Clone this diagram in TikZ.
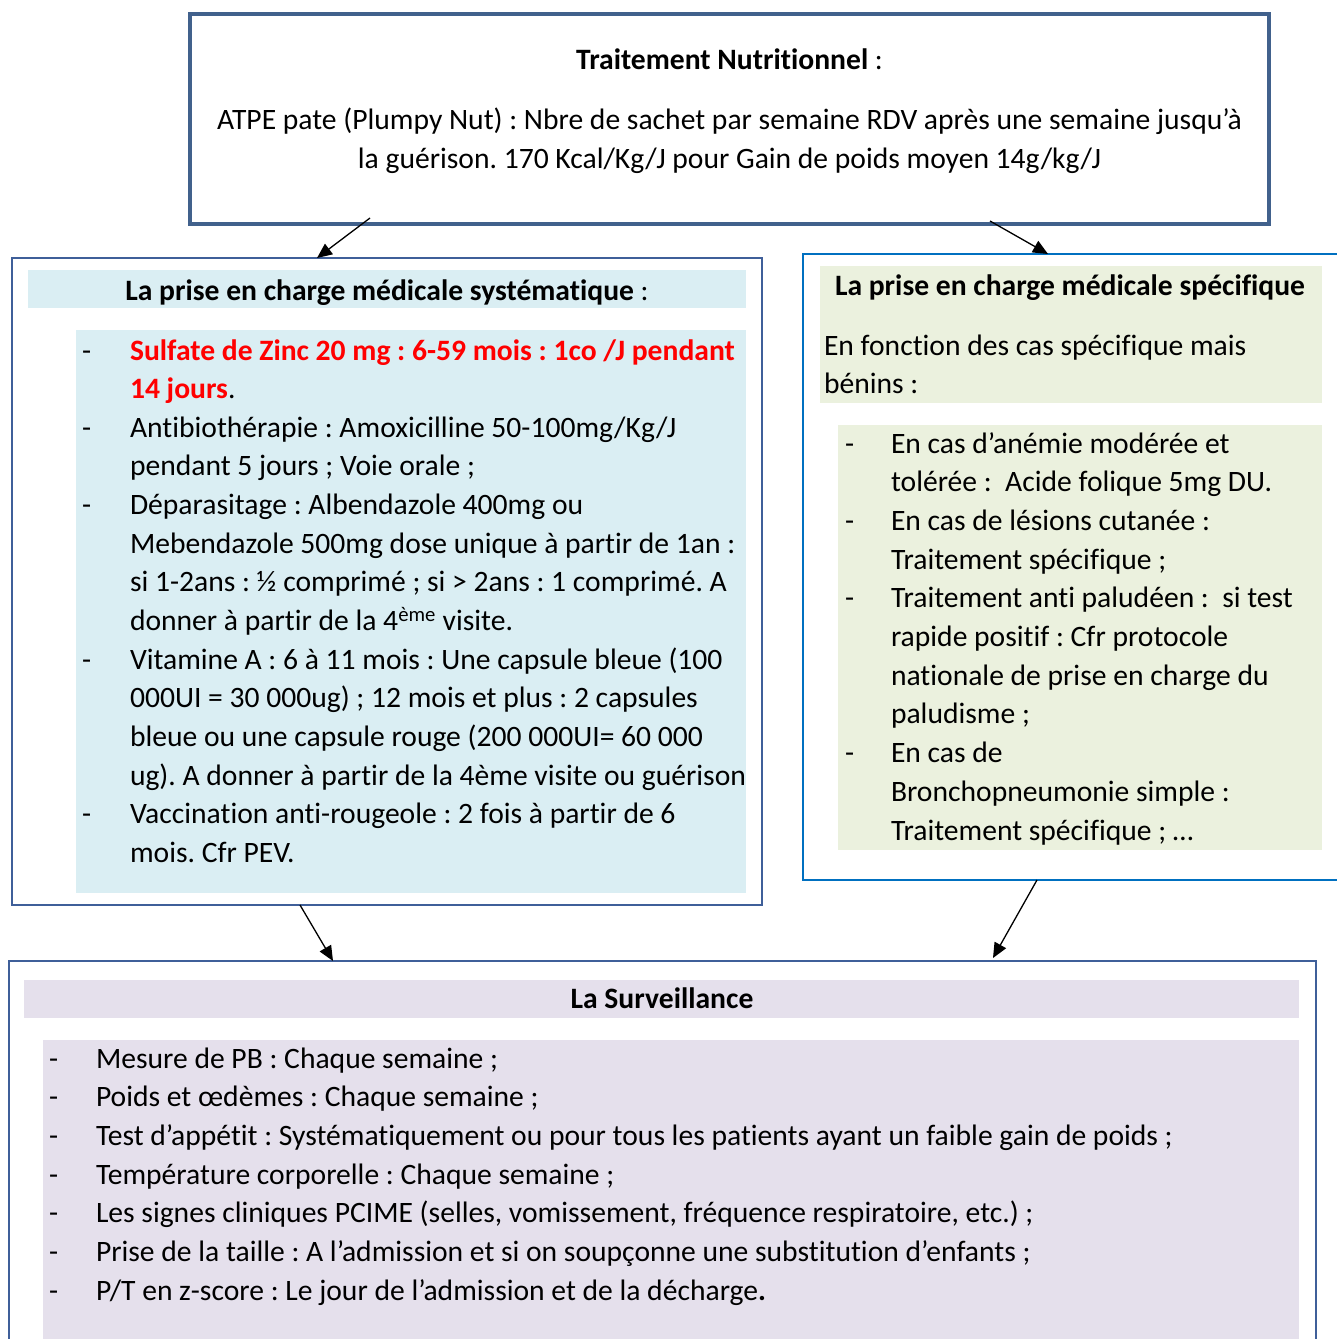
\documentclass[tikz,border=0pt]{standalone}
\usepackage{fontspec}
\setmainfont{Carlito}[Ligatures={NoCommon}]
\usetikzlibrary{arrows.meta}
\definecolor{topline}{RGB}{65,97,140}
\definecolor{boxline}{RGB}{63,95,153}
\definecolor{rightline}{RGB}{0,112,192}
\definecolor{bandblue}{RGB}{218,238,243}
\definecolor{bandgreen}{RGB}{235,241,222}
\definecolor{bandpurple}{RGB}{229,224,236}
\definecolor{zincred}{RGB}{255,0,0}
\newcommand{\fsz}{\fontsize{29.6}{38.7}\selectfont\frenchspacing}
\begin{document}
\begin{tikzpicture}[x=1pt,y=-1pt,
  txt/.style={anchor=base west,inner sep=0pt,outer sep=0pt,font=\fsz,yshift=-1pt},
  ctxt/.style={anchor=base,inner sep=0pt,outer sep=0pt,font=\fsz,yshift=-1pt},
  box/.style={draw=#1,anchor=north west,inner sep=0pt,outer sep=0pt},
  band/.style={fill=#1,anchor=north west,inner sep=0pt,outer sep=0pt,draw=none},
  arr/.style={-{Triangle[length=15pt,width=13pt]},line width=1.3pt,black}]
\useasboundingbox (0,0) rectangle (1337,1339);
\clip (0,0) rectangle (1337,1339);

% boxes
\node[box=topline,line width=4.5pt,minimum width=1079pt,minimum height=210pt] (top) at (190,14) {};
\node[box=boxline,line width=2pt,minimum width=750pt,minimum height=647pt] (left) at (12,258) {};
\node[box=rightline,line width=2.5pt,minimum width=560pt,minimum height=626pt] (right) at (803,254) {};
\node[box=boxline,line width=2pt,minimum width=1307pt,minimum height=400pt] (bottom) at (9,961) {};

% bands
\node[band=bandblue,minimum width=718pt,minimum height=38pt] (lhb) at (28,270) {};
\node[band=bandblue,minimum width=670pt,minimum height=563pt] (lcb) at (76,330) {};
\node[band=bandgreen,minimum width=502pt,minimum height=137pt] (rhb) at (820,266) {};
\node[band=bandgreen,minimum width=484pt,minimum height=425pt] (rcb) at (838,425) {};
\node[band=bandpurple,minimum width=1275pt,minimum height=38pt] (bhb) at (24,980) {};
\node[band=bandpurple,minimum width=1256pt,minimum height=310pt] (bcb) at (43,1040) {};

% top text
\node[ctxt] (t1) at (729.5,68) {\textbf{Traitement Nutritionnel} :};
\node[ctxt] (t2) at (729.5,128) {ATPE pate (Plumpy Nut) : Nbre de sachet par semaine RDV après une semaine jusqu’à};
\node[ctxt] (t3) at (729.5,167) {la guérison. 170 Kcal/Kg/J pour Gain de poids moyen 14g/kg/J};

% left text
\node[ctxt] (lh) at (387,299) {\textbf{La prise en charge médicale systématique} :};
\node[txt] (ld1) at (82,359) {-};
\node[txt] (ld2) at (82,436.3) {-};
\node[txt] (ld3) at (82,513.6) {-};
\node[txt] (ld4) at (82,668.2) {-};
\node[txt] (ld5) at (82,822.8) {-};
\node[txt,text=zincred] (l0) at (130,359) {\textbf{Sulfate de Zinc 20 mg : 6-59 mois : 1co /J pendant}};
\node[txt] (l1) at (130,397.65) {\textcolor{zincred}{\textbf{14 jours}}.};
\node[txt] (l2) at (130,436.3) {Antibiothérapie : Amoxicilline 50-100mg/Kg/J};
\node[txt] (l3) at (130,474.95) {pendant 5 jours ; Voie orale ;};
\node[txt] (l4) at (130,513.6) {Déparasitage : Albendazole 400mg ou};
\node[txt] (l5) at (130,552.25) {Mebendazole 500mg dose unique à partir de 1an :};
\node[txt] (l6) at (130,590.9) {si 1-2ans : ½ comprimé ; si > 2ans : 1 comprimé. A};
\node[txt] (l7) at (130,629.55) {donner à partir de la 4\textsuperscript{ème} visite.};
\node[txt] (l8) at (130,668.2) {Vitamine A : 6 à 11 mois : Une capsule bleue (100};
\node[txt] (l9) at (130,706.85) {000UI = 30 000ug) ; 12 mois et plus : 2 capsules};
\node[txt] (l10) at (130,745.5) {bleue ou une capsule rouge (200 000UI= 60 000};
\node[txt] (l11) at (130,784.15) {ug). A donner à partir de la 4ème visite ou guérison};
\node[txt] (l12) at (130,822.8) {Vaccination anti-rougeole : 2 fois à partir de 6};
\node[txt] (l13) at (130,861.45) {mois. Cfr PEV.};

% right text
\node[txt] (rh) at (835,294) {\textbf{La prise en charge médicale spécifique}};
\node[txt] (ri1) at (824,354) {En fonction des cas spécifique mais};
\node[txt] (ri2) at (824,392.7) {bénins :};
\node[txt] (rd1) at (845,452) {-};
\node[txt] (rd2) at (845,529.4) {-};
\node[txt] (rd3) at (845,606.8) {-};
\node[txt] (rd4) at (845,761.6) {-};
\node[txt] (r0) at (891,452) {En cas d’anémie modérée et};
\node[txt] (r1) at (891,490.7) {tolérée :\ \ Acide folique 5mg DU.};
\node[txt] (r2) at (891,529.4) {En cas de lésions cutanée :};
\node[txt] (r3) at (891,568.1) {Traitement spécifique ;};
\node[txt] (r4) at (891,606.8) {Traitement anti paludéen :\ \ si test};
\node[txt] (r5) at (891,645.5) {rapide positif : Cfr protocole};
\node[txt] (r6) at (891,684.2) {nationale de prise en charge du};
\node[txt] (r7) at (891,722.9) {paludisme ;};
\node[txt] (r8) at (891,761.6) {En cas de};
\node[txt] (r9) at (891,800.3) {Bronchopneumonie simple :};
\node[txt] (r10) at (891,839) {Traitement spécifique ; …};

% bottom text
\node[ctxt] (bh) at (662,1007) {\textbf{La Surveillance}};
\node[txt] (bd1) at (49,1067) {-};
\node[txt] (bd2) at (49,1105.7) {-};
\node[txt] (bd3) at (49,1144.4) {-};
\node[txt] (bd4) at (49,1183.1) {-};
\node[txt] (bd5) at (49,1221.8) {-};
\node[txt] (bd6) at (49,1260.5) {-};
\node[txt] (bd7) at (49,1299.2) {-};
\node[txt] (b1) at (96,1067) {Mesure de PB : Chaque semaine ;};
\node[txt] (b2) at (96,1105.7) {Poids et œdèmes : Chaque semaine ;};
\node[txt] (b3) at (96,1144.4) {Test d’appétit : Systématiquement ou pour tous les patients ayant un faible gain de poids ;};
\node[txt] (b4) at (96,1183.1) {Température corporelle : Chaque semaine ;};
\node[txt] (b5) at (96,1221.8) {Les signes cliniques PCIME (selles, vomissement, fréquence respiratoire, etc.) ;};
\node[txt] (b6) at (96,1260.5) {Prise de la taille : A l’admission et si on soupçonne une substitution d’enfants ;};
\node[txt] (b7) at (96,1299.2) {P/T en z-score : Le jour de l’admission et de la décharge\textbf{.}};

% arrows
\draw[arr] ([xshift=-359.5pt,yshift=6pt]top.south) -- ([xshift=-70pt]left.north);
\draw[arr] ([xshift=260.5pt,yshift=3pt]top.south) -- ([xshift=-35pt]right.north);
\draw[arr] ([xshift=-87pt]left.south) -- ([xshift=-329.5pt]bottom.north);
\draw[arr] ([xshift=-46pt]right.south) -- ([xshift=330.5pt,yshift=3pt]bottom.north);
\end{tikzpicture}
\end{document}
